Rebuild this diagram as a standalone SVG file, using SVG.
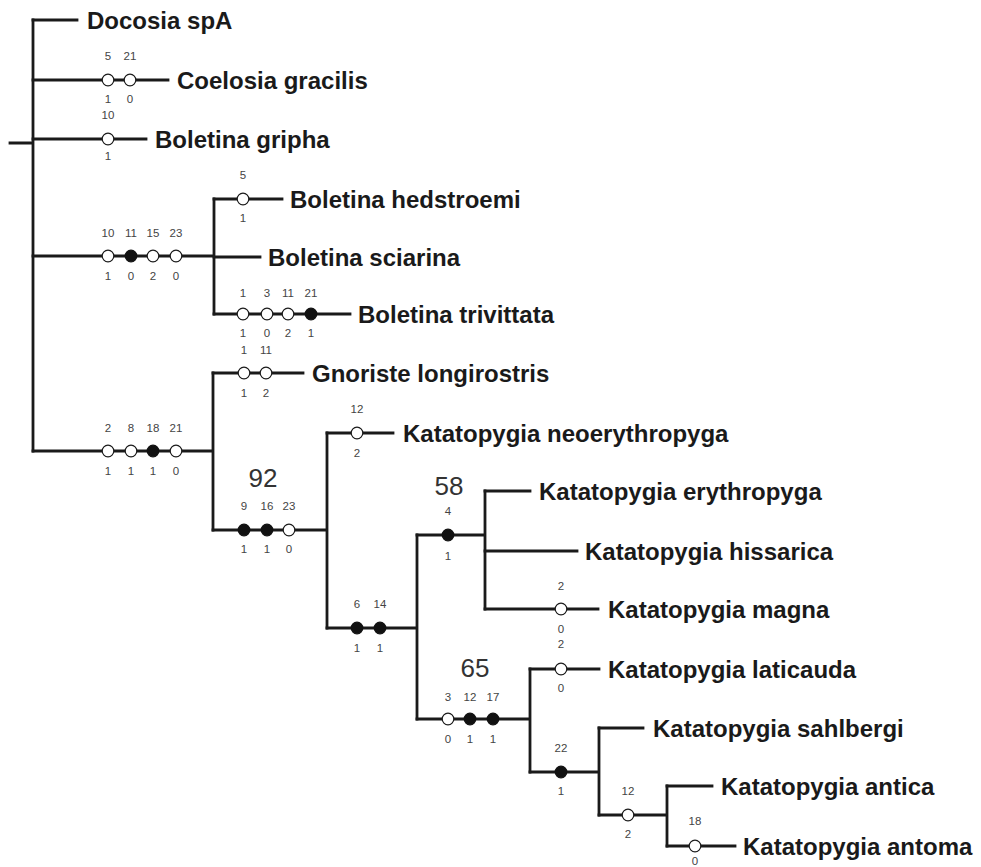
<svg xmlns="http://www.w3.org/2000/svg" width="981" height="867" viewBox="0 0 981 867">
<style>
.e{fill:none;stroke:#1a1a1a;stroke-width:2.8;stroke-linecap:square}
.o{fill:#fff;stroke:#1a1a1a;stroke-width:1.2}
.f{fill:#111;stroke:#111;stroke-width:1.2}
.t{font-family:"Liberation Sans",Arial,sans-serif;font-weight:bold;font-size:24px;fill:#1a1a1a}
.s{font-family:"Liberation Sans",Arial,sans-serif;font-size:11.5px;fill:#444;text-anchor:middle}
.b{font-family:"Liberation Sans",Arial,sans-serif;font-size:26px;fill:#333;text-anchor:middle}
</style>
<rect width="981" height="867" fill="#fff"/>
<g id="connectors">
<path class="e" d="M10,143H33M33,20V451"/>
<path class="e" d="M33,20H77"/>
<path class="e" d="M33,80H168"/>
<path class="e" d="M33,139H146"/>
<path class="e" d="M33,256H214M214,199V314"/>
<path class="e" d="M214,199H282"/>
<path class="e" d="M214,257H260"/>
<path class="e" d="M214,314H350"/>
<path class="e" d="M33,451H213M213,373V530"/>
<path class="e" d="M213,373H303"/>
<path class="e" d="M213,530H327M327,433V628"/>
<path class="e" d="M327,433H393"/>
<path class="e" d="M327,628H417M417,535V719"/>
<path class="e" d="M417,535H485M485,491V609"/>
<path class="e" d="M485,491H530"/>
<path class="e" d="M485,551H577"/>
<path class="e" d="M485,609H598"/>
<path class="e" d="M417,719H530M530,669V772"/>
<path class="e" d="M530,669H599"/>
<path class="e" d="M530,772H599M599,728V815"/>
<path class="e" d="M599,728H643"/>
<path class="e" d="M599,815H667M667,786V846"/>
<path class="e" d="M667,786H712"/>
<path class="e" d="M667,846H735"/>
</g>
<g id="docosia"><text class="t" x="87" y="29">Docosia spA</text></g>
<g id="coelosia">
<circle class="o" cx="108" cy="80" r="5.8"/><circle class="o" cx="130" cy="80" r="5.8"/>
<text class="s" x="108" y="60">5</text><text class="s" x="130" y="60">21</text>
<text class="s" x="108" y="103">1</text><text class="s" x="130" y="103">0</text>
<text class="t" x="177" y="89">Coelosia gracilis</text>
</g>
<g id="gripha">
<circle class="o" cx="108" cy="139" r="5.8"/>
<text class="s" x="108" y="119">10</text><text class="s" x="108" y="160">1</text>
<text class="t" x="155" y="148">Boletina gripha</text>
</g>
<g id="boletina-clade">
<circle class="o" cx="108" cy="256" r="5.8"/><circle class="f" cx="131" cy="256" r="5.8"/><circle class="o" cx="153" cy="256" r="5.8"/><circle class="o" cx="176" cy="256" r="5.8"/>
<text class="s" x="108" y="237">10</text><text class="s" x="131" y="237">11</text><text class="s" x="153" y="237">15</text><text class="s" x="176" y="237">23</text>
<text class="s" x="108" y="280">1</text><text class="s" x="131" y="280">0</text><text class="s" x="153" y="280">2</text><text class="s" x="176" y="280">0</text>
</g>
<g id="hedstroemi">
<circle class="o" cx="243" cy="199" r="5.8"/>
<text class="s" x="243" y="179">5</text><text class="s" x="243" y="222">1</text>
<text class="t" x="290" y="208">Boletina hedstroemi</text>
</g>
<g id="sciarina"><text class="t" x="268" y="266">Boletina sciarina</text></g>
<g id="trivittata">
<circle class="o" cx="243" cy="314" r="5.8"/><circle class="o" cx="267" cy="314" r="5.8"/><circle class="o" cx="288" cy="314" r="5.8"/><circle class="f" cx="311" cy="314" r="5.8"/>
<text class="s" x="243" y="297">1</text><text class="s" x="267" y="297">3</text><text class="s" x="288" y="297">11</text><text class="s" x="311" y="297">21</text>
<text class="s" x="243" y="337">1</text><text class="s" x="267" y="337">0</text><text class="s" x="288" y="337">2</text><text class="s" x="311" y="337">1</text>
<text class="t" x="358" y="323">Boletina trivittata</text>
</g>
<g id="main-clade">
<circle class="o" cx="108" cy="451" r="5.8"/><circle class="o" cx="131" cy="451" r="5.8"/><circle class="f" cx="153" cy="451" r="5.8"/><circle class="o" cx="176" cy="451" r="5.8"/>
<text class="s" x="108" y="432">2</text><text class="s" x="131" y="432">8</text><text class="s" x="153" y="432">18</text><text class="s" x="176" y="432">21</text>
<text class="s" x="108" y="475">1</text><text class="s" x="131" y="475">1</text><text class="s" x="153" y="475">1</text><text class="s" x="176" y="475">0</text>
</g>
<g id="gnoriste">
<circle class="o" cx="244" cy="373" r="5.8"/><circle class="o" cx="266" cy="373" r="5.8"/>
<text class="s" x="244" y="354">1</text><text class="s" x="266" y="354">11</text>
<text class="s" x="244" y="397">1</text><text class="s" x="266" y="397">2</text>
<text class="t" x="312" y="382">Gnoriste longirostris</text>
</g>
<g id="clade-92">
<text class="b" x="263" y="487">92</text>
<circle class="f" cx="244" cy="530" r="5.8"/><circle class="f" cx="267" cy="530" r="5.8"/><circle class="o" cx="289" cy="530" r="5.8"/>
<text class="s" x="244" y="510">9</text><text class="s" x="267" y="510">16</text><text class="s" x="289" y="510">23</text>
<text class="s" x="244" y="553">1</text><text class="s" x="267" y="553">1</text><text class="s" x="289" y="553">0</text>
</g>
<g id="neoerythropyga">
<circle class="o" cx="357" cy="433" r="5.8"/>
<text class="s" x="357" y="413">12</text><text class="s" x="357" y="457">2</text>
<text class="t" x="403" y="442">Katatopygia neoerythropyga</text>
</g>
<g id="clade-6-14">
<circle class="f" cx="357" cy="628" r="5.8"/><circle class="f" cx="380" cy="628" r="5.8"/>
<text class="s" x="357" y="608">6</text><text class="s" x="380" y="608">14</text>
<text class="s" x="357" y="652">1</text><text class="s" x="380" y="652">1</text>
</g>
<g id="clade-58">
<text class="b" x="449" y="495">58</text>
<circle class="f" cx="448" cy="535" r="5.8"/>
<text class="s" x="448" y="515">4</text><text class="s" x="448" y="560">1</text>
</g>
<g id="erythropyga"><text class="t" x="539" y="500">Katatopygia erythropyga</text></g>
<g id="hissarica"><text class="t" x="585" y="560">Katatopygia hissarica</text></g>
<g id="magna">
<circle class="o" cx="561" cy="609" r="5.8"/>
<text class="s" x="561" y="590">2</text><text class="s" x="561" y="633">0</text>
<text class="t" x="608" y="618">Katatopygia magna</text>
</g>
<g id="clade-65">
<text class="b" x="475" y="677">65</text>
<circle class="o" cx="448" cy="719" r="5.8"/><circle class="f" cx="470" cy="719" r="5.8"/><circle class="f" cx="493" cy="719" r="5.8"/>
<text class="s" x="448" y="701">3</text><text class="s" x="470" y="701">12</text><text class="s" x="493" y="701">17</text>
<text class="s" x="448" y="743">0</text><text class="s" x="470" y="743">1</text><text class="s" x="493" y="743">1</text>
</g>
<g id="laticauda">
<circle class="o" cx="561" cy="669" r="5.8"/>
<text class="s" x="561" y="648">2</text><text class="s" x="561" y="692">0</text>
<text class="t" x="608" y="678">Katatopygia laticauda</text>
</g>
<g id="clade-22">
<circle class="f" cx="561" cy="772" r="5.8"/>
<text class="s" x="561" y="752">22</text><text class="s" x="561" y="795">1</text>
</g>
<g id="sahlbergi"><text class="t" x="653" y="737">Katatopygia sahlbergi</text></g>
<g id="clade-12">
<circle class="o" cx="628" cy="815" r="5.8"/>
<text class="s" x="628" y="795">12</text><text class="s" x="628" y="838">2</text>
</g>
<g id="antica"><text class="t" x="721" y="795">Katatopygia antica</text></g>
<g id="antoma">
<circle class="o" cx="695" cy="846" r="5.8"/>
<text class="s" x="695" y="825">18</text><text class="s" x="695" y="865">0</text>
<text class="t" x="743" y="855">Katatopygia antoma</text>
</g>
</svg>
